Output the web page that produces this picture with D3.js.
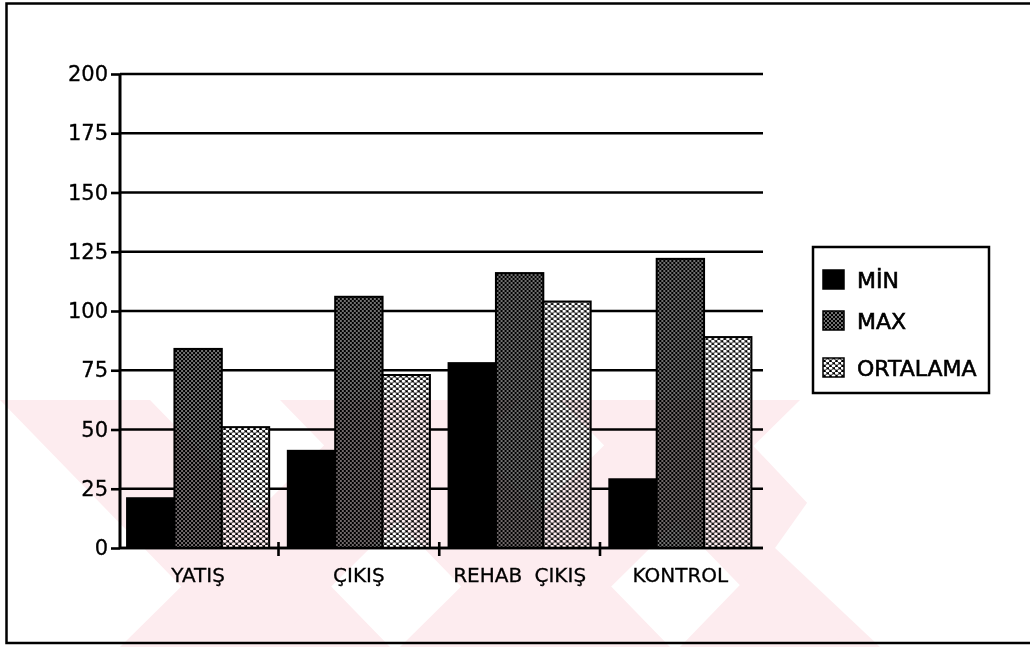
<!DOCTYPE html>
<html>
<head>
<meta charset="utf-8">
<script src="https://cdn.jsdelivr.net/npm/d3@7/dist/d3.min.js"></script>
<style>
  html, body { margin: 0; padding: 0; background: #fff; }
  svg { display: block; }
  text { font-family: "DejaVu Sans", sans-serif; fill: #000; }
</style>
</head>
<body>
<svg id="chart" width="1030" height="647"></svg>
<script>
// Values per category (MİN / MAX / ORTALAMA)
const categories = ["YATIŞ", "ÇIKIŞ", "REHAB ÇIKIŞ", "KONTROL"];
const seriesNames = ["MİN", "MAX", "ORTALAMA"];
const minValues = [21, 41, 78, 29];
const maxValues = [84, 106, 116, 122];
const meanValues = [51, 73, 104, 89];
const yTickValues = [0, 25, 50, 75, 100, 125, 150, 175, 200];

const seriesValues = [minValues, maxValues, meanValues];

const svg = d3.select("#chart");
const defs = svg.append("defs");

// Fill patterns: solid black, dark dotted screen, light mesh screen
const pMax = defs.append("pattern").attr("id", "pat-max")
  .attr("patternUnits", "userSpaceOnUse").attr("width", 4).attr("height", 4);
pMax.append("rect").attr("width", 4).attr("height", 4).attr("fill", "#000");
pMax.append("circle").attr("cx", 1).attr("cy", 1).attr("r", 0.8).attr("fill", "#fff");
pMax.append("circle").attr("cx", 3).attr("cy", 3).attr("r", 0.8).attr("fill", "#fff");

const pMean = defs.append("pattern").attr("id", "pat-mean")
  .attr("patternUnits", "userSpaceOnUse").attr("width", 6).attr("height", 5);
pMean.append("rect").attr("width", 6).attr("height", 5).attr("fill", "#000");
pMean.append("ellipse").attr("cx", 1.5).attr("cy", 1.25).attr("rx", 1.9).attr("ry", 1.5).attr("fill", "#fff");
pMean.append("ellipse").attr("cx", 4.5).attr("cy", 3.75).attr("rx", 1.9).attr("ry", 1.5).attr("fill", "#fff");
pMean.append("ellipse").attr("cx", -1.5).attr("cy", 3.75).attr("rx", 1.9).attr("ry", 1.5).attr("fill", "#fff");
pMean.append("ellipse").attr("cx", 4.5).attr("cy", -1.25).attr("rx", 1.9).attr("ry", 1.5).attr("fill", "#fff");

const fills = ["#000", "url(#pat-max)", "url(#pat-mean)"];

// Outer frame (open on the right)
const frame = svg.append("g").attr("stroke", "#000").attr("stroke-width", 2.5).attr("fill", "none");
frame.append("path").attr("d", "M1030,3.5 H6.5 V643 H1030");

// Scales
const y = d3.scaleLinear().domain([0, 200]).range([548, 74]);
const x = d3.scaleBand().domain(categories).range([120, 758.5])
  .paddingInner(0.116).paddingOuter(0.044);
const xs = d3.scaleBand().domain(seriesNames).range([0, x.bandwidth()]).padding(0);
const plotRight = 763;

// Horizontal gridlines
svg.append("g").selectAll("line").data(yTickValues).join("line")
  .attr("x1", 120).attr("x2", plotRight)
  .attr("y1", d => y(d)).attr("y2", d => y(d))
  .attr("stroke", "#000").attr("stroke-width", 2.6);

// Y axis
const yAxis = svg.append("g").attr("transform", "translate(120,0)")
  .call(d3.axisLeft(y).tickValues(yTickValues).tickSize(9).tickPadding(3).tickFormat(d3.format("d")));
yAxis.select(".domain").attr("stroke-width", 3).attr("d", `M0,${y(200)}V${y(0)}`);
yAxis.selectAll(".tick line").attr("stroke-width", 2.6);
yAxis.selectAll(".tick text").attr("font-size", 21).attr("font-family", "DejaVu Sans")
  .attr("fill", "#000").attr("stroke", "#000").attr("stroke-width", 0.3);

// Bars
const groups = svg.append("g").selectAll("g").data(categories).join("g")
  .attr("transform", d => `translate(${x(d)},0)`);
groups.selectAll("rect")
  .data((c, i) => seriesNames.map((s, j) => ({ s, j, v: seriesValues[j][i] })))
  .join("rect")
  .attr("x", d => xs(d.s))
  .attr("width", xs.bandwidth())
  .attr("y", d => y(d.v))
  .attr("height", d => y(0) - y(d.v))
  .attr("fill", d => fills[d.j])
  .attr("stroke", "#000").attr("stroke-width", 2);

// X axis baseline, category separators and labels
svg.append("line").attr("x1", 120).attr("x2", plotRight)
  .attr("y1", y(0)).attr("y2", y(0)).attr("stroke", "#000").attr("stroke-width", 2.6);
const step = x.step();
svg.append("g").selectAll("line").data(categories.slice(1)).join("line")
  .attr("x1", d => x(d) - step * x.paddingInner() / 2)
  .attr("x2", d => x(d) - step * x.paddingInner() / 2)
  .attr("y1", y(0) - 6).attr("y2", y(0) + 8)
  .attr("stroke", "#000").attr("stroke-width", 2.6);
svg.append("g").selectAll("text").data(categories).join("text")
  .attr("x", d => x(d) + x.bandwidth() / 2)
  .attr("y", 582)
  .attr("text-anchor", "middle")
  .attr("font-size", 20)
  .attr("word-spacing", 6)
  .attr("stroke", "#000").attr("stroke-width", 0.3)
  .text(d => d);

// Legend
const legend = svg.append("g");
legend.append("rect").attr("x", 813).attr("y", 247).attr("width", 176).attr("height", 146)
  .attr("fill", "#fff").attr("stroke", "#000").attr("stroke-width", 2.5);
const legendY = [279, 320, 367];
const items = legend.selectAll("g.item").data(seriesNames).join("g").attr("class", "item")
  .attr("transform", (d, i) => `translate(823,${legendY[i]})`);
items.append("rect").attr("x", 0).attr("y", -9).attr("width", 21).attr("height", 19)
  .attr("fill", (d, i) => fills[i]).attr("stroke", "#000").attr("stroke-width", 1.5);
items.append("text").attr("x", 34).attr("y", 9)
  .attr("font-size", 22).attr("stroke", "#000").attr("stroke-width", 0.6)
  .text(d => d);

// Faint diagonal stamp across the lower part of the page
const stamp = svg.append("g").style("mix-blend-mode", "multiply").attr("fill", "#fdecef");
defs.append("clipPath").attr("id", "stamp-clip")
  .append("polygon").attr("points", "0,400 880,400 775,548 880,647 0,647");
stamp.attr("clip-path", "url(#stamp-clip)");
const bands = [
  "0,400 150,400 390,647 240,647",
  "280,400 430,400 670,647 520,647",
  "560,400 710,400 880,580 880,647 800,647",
  "120,647 270,647 520,400 370,400",
  "400,647 550,647 800,400 650,400",
  "680,647 830,647 880,595 880,440"
];
stamp.selectAll("polygon").data(bands).join("polygon").attr("points", d => d);
</script>
</body>
</html>
